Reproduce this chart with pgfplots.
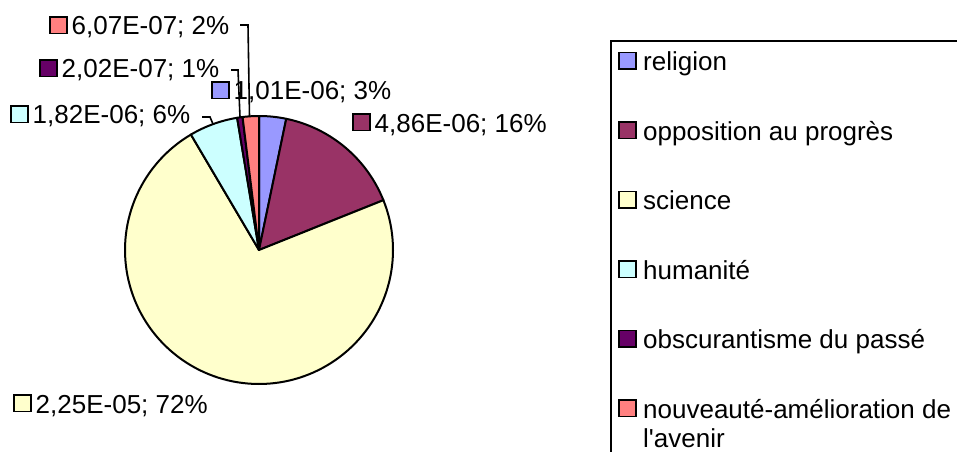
\documentclass[border=0pt]{standalone}
\usepackage{pgfplots}
\pgfplotsset{compat=1.18}
\usepackage{fontspec}
\setmainfont{Liberation Sans}

\definecolor{cRel}{HTML}{9999FF}
\definecolor{cOpp}{HTML}{993366}
\definecolor{cSci}{HTML}{FFFFCC}
\definecolor{cHum}{HTML}{CCFFFF}
\definecolor{cObs}{HTML}{660066}
\definecolor{cNou}{HTML}{FF8080}

% values, in units of 1E-06
\def\vA{1.01}  % religion
\def\vB{4.86}  % opposition au progres
\def\vC{22.5}  % science
\def\vD{1.82}  % humanite
\def\vE{0.202} % obscurantisme du passe
\def\vF{0.607} % nouveaute-amelioration de l'avenir

\pgfmathsetmacro\tot{\vA+\vB+\vC+\vD+\vE+\vF}
\pgfmathsetmacro\aA{360*\vA/\tot}
\pgfmathsetmacro\aB{\aA+360*\vB/\tot}
\pgfmathsetmacro\aC{\aB+360*\vC/\tot}
\pgfmathsetmacro\aD{\aC+360*\vD/\tot}
\pgfmathsetmacro\aE{\aD+360*\vE/\tot}

\newcommand\lab[5]{% x of square, baseline, colour, gap, text
  \draw[line width=1.8bp, fill=#3] (#1,#2-1.5) rectangle (#1+17,#2-18);
  \node[anchor=base west, inner sep=0pt] at (#1+17+#4,#2) {#5};
}

\begin{document}
\begin{tikzpicture}
\begin{axis}[at={(0,0)}, anchor=south west, scale only axis,
  width=957bp, height=452bp,
  xmin=0, xmax=957, ymin=0, ymax=452, y dir=reverse,
  hide axis, clip=false]
\pgfplotsset{every axis plot/.append style={draw=black, line width=2bp, line join=round, variable=\t}}

\addplot[fill=cRel, domain=0:\aA, samples=20] ({259+134*sin(\t)},{250-134*cos(\t)}) -- (259,250) -- cycle;
\addplot[fill=cOpp, domain=\aA:\aB, samples=40] ({259+134*sin(\t)},{250-134*cos(\t)}) -- (259,250) -- cycle;
\addplot[fill=cSci, domain=\aB:\aC, samples=120] ({259+134*sin(\t)},{250-134*cos(\t)}) -- (259,250) -- cycle;
\addplot[fill=cHum, domain=\aC:\aD, samples=20] ({259+134*sin(\t)},{250-134*cos(\t)}) -- (259,250) -- cycle;
\addplot[fill=cObs, domain=\aD:\aE, samples=5] ({259+134*sin(\t)},{250-134*cos(\t)}) -- (259,250) -- cycle;
\addplot[fill=cNou, domain=\aE:360, samples=10] ({259+134*sin(\t)},{250-134*cos(\t)}) -- (259,250) -- cycle;

% leader lines
\draw[line width=1.6bp] (240,25) -- (248,25) -- (249.5,117);
\draw[line width=1.6bp] (231,70) -- (238,70) -- (240,117);
\draw[line width=1.6bp] (202,117) -- (210,117) -- (213,124);

\fontsize{26bp}{29bp}\selectfont
% data labels
\lab{50}{35}{cNou}{4.5}{6,07E-07; 2\%}
\lab{40}{78}{cObs}{4.5}{2,02E-07; 1\%}
\lab{11}{124}{cHum}{4.5}{1,82E-06; 6\%}
\lab{212}{100}{cRel}{4.5}{1,01E-06; 3\%}
\lab{353}{132}{cOpp}{4.5}{4,86E-06; 16\%}
\lab{14}{413}{cSci}{4.5}{2,25E-05; 72\%}

% legend
\draw[line width=1.8bp] (611,470) -- (611,41) -- (980,41);
\lab{619}{70.5}{cRel}{7}{religion}
\lab{619}{140}{cOpp}{7}{opposition au progrès}
\lab{619}{209.5}{cSci}{7}{science}
\lab{619}{279}{cHum}{7}{humanité}
\lab{619}{348.5}{cObs}{7}{obscurantisme du passé}
\lab{619}{418}{cNou}{7}{nouveauté-amélioration de}
\node[anchor=base west, inner sep=0pt] at (643,447) {l\textquotesingle avenir};
\end{axis}
\pgfresetboundingbox
\path (0,0) rectangle (957bp,452bp);
\end{tikzpicture}
\end{document}
